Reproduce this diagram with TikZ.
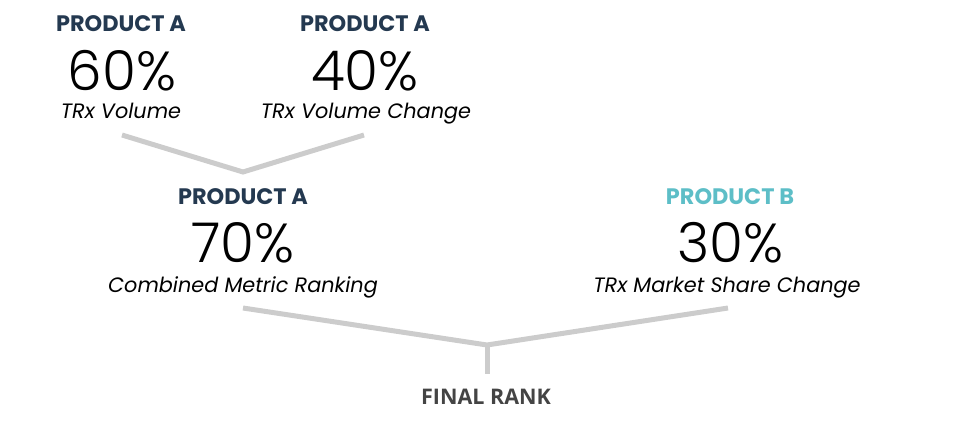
\documentclass[tikz,border=0pt]{standalone}
\usepackage{fontspec}
\usepackage{xcolor}
\setmainfont{Poppins}
\newfontfamily\pctfont{Poppins Light}
\newfontfamily\rankfont{Open Sans}
\usetikzlibrary{positioning}
\definecolor{navy}{RGB}{36,57,80}
\definecolor{tealB}{RGB}{93,190,199}
\definecolor{conn}{RGB}{204,204,204}
\definecolor{rankgray}{RGB}{68,68,68}

\begin{document}
\begin{tikzpicture}[x=1pt,y=-1pt,
  ttl/.style={anchor=base,inner sep=0pt,text=navy,
              font=\fontsize{22.4}{22}\selectfont\bfseries},
  pct/.style={anchor=base,inner sep=0pt,text=black,text depth=0pt,
              font=\fontsize{55}{55}\selectfont\pctfont},
  lbl/.style={anchor=base,inner sep=0pt,text=black,
              font=\fontsize{20.8}{20}\selectfont\itshape},
  link/.style={draw=conn,line width=5pt}]
  \useasboundingbox (0,0) rectangle (974,423);
  % first row
  \node[ttl] (ttlvol) at (121,31)  {PRODUCT A};
  \node[pct] (pctvol) at (122,90)  {60\%};
  \node[lbl] (lblvol) at (121,118) {TRx Volume};
  \node[ttl] (ttlchg) at (365,31)  {PRODUCT A};
  \node[pct] (pctchg) at (365,90)  {40\%};
  \node[lbl] (lblchg) at (366,118) {TRx Volume Change};
  % second row
  \node[ttl] (ttlcomb) at (243,204) {PRODUCT A};
  \node[pct] (pctcomb) at (243,262) {70\%};
  \node[lbl] (lblcomb) at (243,292) {Combined Metric Ranking};
  \node[ttl,text=tealB] (ttlshare) at (730,204) {PRODUCT B};
  \node[pct] (pctshare) at (730,262) {30\%};
  \node[lbl] (lblshare) at (727,292) {TRx Market Share Change};
  \node[anchor=base,inner sep=0pt,text=rankgray,
        font=\fontsize{21.5}{21}\selectfont\rankfont\bfseries] (rank) at (486,404) {FINAL RANK};
  % connectors
  \coordinate (vol) at (122,135);
  \coordinate (chg) at (364,135);
  \coordinate (jtop) at (243,172);
  \coordinate (comb) at (243,308);
  \coordinate (share) at (728,308);
  \coordinate (jbot) at (487,345);
  \coordinate (stem) at (487,374);
  \draw[link] (vol) -- (jtop) -- (chg);
  \draw[link] (comb) -- (jbot) -- (share);
  \draw[link] (jbot) -- (stem);
\end{tikzpicture}
\end{document}
